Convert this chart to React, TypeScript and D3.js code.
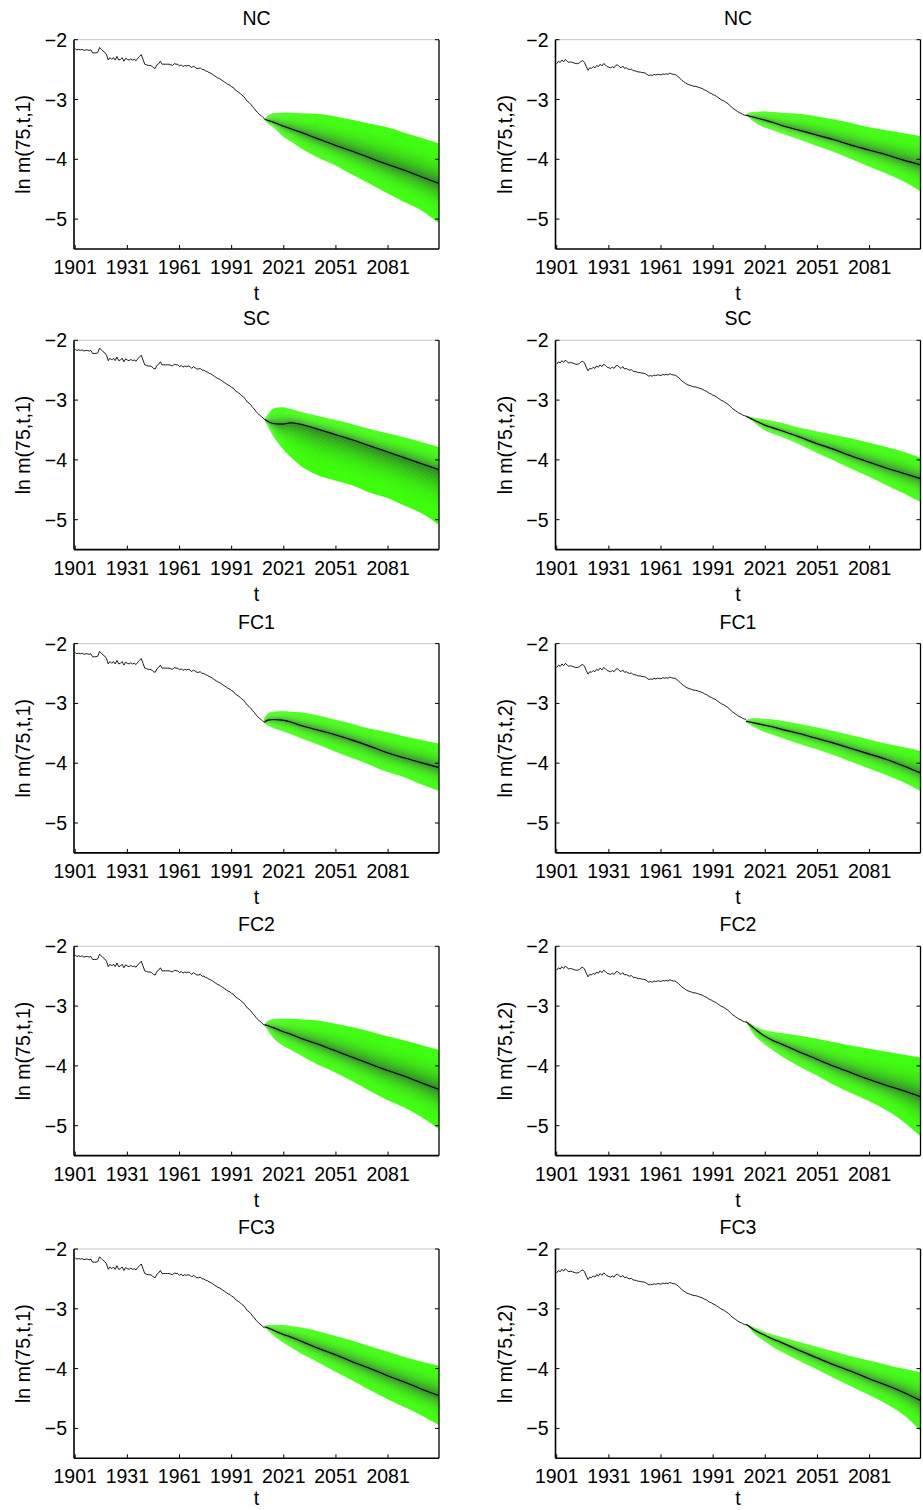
import * as d3 from "d3"

// historical ln m(75,t,s), 1901..2010
const histYears = d3.range(1901, 2011)
const histSex1 = [
  -2.15, -2.17, -2.16, -2.17, -2.16, -2.18, -2.17, -2.17, -2.18, -2.17,
  -2.22, -2.22, -2.22, -2.21, -2.13, -2.16, -2.19, -2.21, -2.25, -2.34,
  -2.30, -2.33, -2.30, -2.34, -2.28, -2.34, -2.33, -2.30, -2.36, -2.31,
  -2.33, -2.34, -2.32, -2.34, -2.33, -2.35, -2.31, -2.28, -2.25, -2.33,
  -2.41, -2.42, -2.43, -2.43, -2.44, -2.47, -2.48, -2.42, -2.40, -2.36,
  -2.41, -2.41, -2.41, -2.41, -2.41, -2.42, -2.43, -2.40, -2.41, -2.41,
  -2.44, -2.42, -2.45, -2.43, -2.44, -2.43, -2.44, -2.47, -2.44, -2.46,
  -2.48, -2.48, -2.47, -2.50, -2.50, -2.52, -2.53, -2.55, -2.56, -2.58,
  -2.60, -2.62, -2.64, -2.65, -2.67, -2.69, -2.71, -2.73, -2.75, -2.76,
  -2.79, -2.80, -2.84, -2.86, -2.88, -2.90, -2.93, -2.95, -2.99, -3.03,
  -3.05, -3.08, -3.12, -3.15, -3.19, -3.22, -3.25, -3.27, -3.30, -3.32,
]
const histSex2 = [
  -2.40, -2.36, -2.38, -2.34, -2.37, -2.33, -2.36, -2.38, -2.37, -2.38,
  -2.39, -2.40, -2.40, -2.39, -2.36, -2.35, -2.38, -2.45, -2.51, -2.47,
  -2.48, -2.45, -2.47, -2.43, -2.45, -2.41, -2.44, -2.40, -2.42, -2.45,
  -2.46, -2.47, -2.45, -2.47, -2.43, -2.42, -2.45, -2.47, -2.44, -2.48,
  -2.47, -2.49, -2.50, -2.49, -2.52, -2.52, -2.53, -2.54, -2.54, -2.55,
  -2.55, -2.56, -2.58, -2.60, -2.59, -2.60, -2.58, -2.59, -2.58, -2.58,
  -2.59, -2.57, -2.58, -2.57, -2.58, -2.56, -2.57, -2.58, -2.58, -2.60,
  -2.62, -2.65, -2.68, -2.70, -2.72, -2.74, -2.75, -2.76, -2.77, -2.78,
  -2.78, -2.79, -2.80, -2.81, -2.82, -2.84, -2.85, -2.87, -2.89, -2.90,
  -2.92, -2.93, -2.95, -2.97, -2.99, -3.01, -3.02, -3.04, -3.06, -3.08,
  -3.11, -3.14, -3.16, -3.18, -3.20, -3.22, -3.23, -3.25, -3.26, -3.27,
]

// forecast years and fan (median, upper, lower) per model and sex
const fcYears = [2010, 2012, 2015, 2020, 2025, 2030, 2040, 2050, 2060, 2070, 2080, 2090, 2100, 2110]

const ncMed1 = [-3.33, -3.35, -3.38, -3.44, -3.49, -3.54, -3.65, -3.76, -3.86, -3.97, -4.08, -4.18, -4.29, -4.40]
const ncUp1 = [-3.33, -3.27, -3.23, -3.22, -3.22, -3.23, -3.24, -3.28, -3.34, -3.40, -3.46, -3.55, -3.64, -3.73]
const ncLo1 = [-3.33, -3.40, -3.46, -3.60, -3.70, -3.80, -3.96, -4.09, -4.25, -4.40, -4.56, -4.71, -4.85, -5.06]
const ncMed2 = [-3.26, -3.28, -3.30, -3.34, -3.38, -3.43, -3.51, -3.59, -3.67, -3.76, -3.84, -3.92, -4.01, -4.09]
const ncUp2 = [-3.26, -3.22, -3.21, -3.20, -3.21, -3.22, -3.24, -3.28, -3.33, -3.39, -3.46, -3.51, -3.56, -3.61]
const ncLo2 = [-3.26, -3.31, -3.38, -3.46, -3.51, -3.56, -3.66, -3.77, -3.87, -3.99, -4.11, -4.23, -4.36, -4.53]

const scMed1 = [-3.32, -3.36, -3.39, -3.40, -3.38, -3.40, -3.48, -3.57, -3.66, -3.76, -3.86, -3.96, -4.06, -4.16]
const scUp1 = [-3.32, -3.24, -3.14, -3.12, -3.15, -3.19, -3.26, -3.33, -3.40, -3.48, -3.55, -3.62, -3.70, -3.78]
const scLo1 = [-3.32, -3.44, -3.60, -3.80, -3.95, -4.08, -4.25, -4.34, -4.42, -4.54, -4.63, -4.76, -4.89, -5.08]
const scMed2 = [-3.27, -3.30, -3.34, -3.41, -3.46, -3.51, -3.61, -3.72, -3.82, -3.93, -4.03, -4.13, -4.22, -4.31]
const scUp2 = [-3.27, -3.28, -3.30, -3.32, -3.35, -3.38, -3.46, -3.52, -3.58, -3.64, -3.71, -3.78, -3.86, -3.96]
const scLo2 = [-3.27, -3.31, -3.38, -3.49, -3.56, -3.61, -3.73, -3.87, -4.00, -4.14, -4.27, -4.41, -4.55, -4.70]

const fc1Med1 = [-3.31, -3.28, -3.27, -3.28, -3.31, -3.36, -3.44, -3.52, -3.61, -3.71, -3.82, -3.91, -3.99, -4.07]
const fc1Up1 = [-3.24, -3.17, -3.14, -3.13, -3.14, -3.15, -3.20, -3.27, -3.34, -3.42, -3.48, -3.55, -3.61, -3.67]
const fc1Lo1 = [-3.33, -3.37, -3.41, -3.46, -3.51, -3.57, -3.68, -3.80, -3.91, -4.02, -4.14, -4.23, -4.35, -4.46]
const fc1Med2 = [-3.30, -3.31, -3.33, -3.36, -3.39, -3.43, -3.50, -3.58, -3.66, -3.75, -3.84, -3.93, -4.04, -4.16]
const fc1Up2 = [-3.29, -3.26, -3.25, -3.26, -3.27, -3.29, -3.34, -3.40, -3.46, -3.53, -3.60, -3.67, -3.73, -3.79]
const fc1Lo2 = [-3.31, -3.35, -3.40, -3.47, -3.52, -3.57, -3.67, -3.76, -3.86, -3.97, -4.08, -4.19, -4.31, -4.46]

const fc2Med1 = [-3.31, -3.33, -3.36, -3.42, -3.47, -3.53, -3.63, -3.74, -3.85, -3.96, -4.07, -4.17, -4.28, -4.39]
const fc2Up1 = [-3.31, -3.25, -3.22, -3.21, -3.21, -3.22, -3.24, -3.29, -3.35, -3.42, -3.50, -3.57, -3.65, -3.73]
const fc2Lo1 = [-3.31, -3.41, -3.53, -3.65, -3.73, -3.81, -3.97, -4.10, -4.25, -4.41, -4.56, -4.69, -4.85, -5.05]
const fc2Med2 = [-3.26, -3.31, -3.38, -3.49, -3.57, -3.63, -3.76, -3.88, -4.00, -4.11, -4.22, -4.32, -4.41, -4.51]
const fc2Up2 = [-3.26, -3.29, -3.34, -3.40, -3.43, -3.45, -3.49, -3.54, -3.60, -3.66, -3.71, -3.76, -3.81, -3.86]
const fc2Lo2 = [-3.26, -3.36, -3.49, -3.62, -3.73, -3.83, -4.00, -4.15, -4.31, -4.45, -4.58, -4.73, -4.92, -5.17]

const fc3Med1 = [-3.30, -3.32, -3.36, -3.42, -3.47, -3.53, -3.65, -3.76, -3.88, -3.99, -4.11, -4.22, -4.34, -4.45]
const fc3Up1 = [-3.30, -3.27, -3.27, -3.27, -3.29, -3.31, -3.37, -3.45, -3.53, -3.62, -3.71, -3.80, -3.88, -3.95]
const fc3Lo1 = [-3.30, -3.36, -3.44, -3.55, -3.64, -3.73, -3.88, -4.04, -4.19, -4.35, -4.50, -4.64, -4.78, -4.94]
const fc3Med2 = [-3.26, -3.30, -3.36, -3.43, -3.50, -3.56, -3.69, -3.81, -3.93, -4.04, -4.16, -4.27, -4.39, -4.53]
const fc3Up2 = [-3.26, -3.28, -3.32, -3.38, -3.43, -3.47, -3.55, -3.63, -3.71, -3.79, -3.86, -3.93, -4.00, -4.06]
const fc3Lo2 = [-3.26, -3.32, -3.42, -3.53, -3.63, -3.71, -3.86, -4.00, -4.15, -4.29, -4.43, -4.58, -4.76, -5.03]

const models = ["NC", "SC", "FC1", "FC2", "FC3"]
const xTicks = [1901, 1931, 1961, 1991, 2021, 2051, 2081]
const yTicks = [-2, -3, -4, -5]

const panels = [
  [{ med: ncMed1, up: ncUp1, lo: ncLo1 }, { med: ncMed2, up: ncUp2, lo: ncLo2 }],
  [{ med: scMed1, up: scUp1, lo: scLo1 }, { med: scMed2, up: scUp2, lo: scLo2 }],
  [{ med: fc1Med1, up: fc1Up1, lo: fc1Lo1 }, { med: fc1Med2, up: fc1Up2, lo: fc1Lo2 }],
  [{ med: fc2Med1, up: fc2Up1, lo: fc2Lo1 }, { med: fc2Med2, up: fc2Up2, lo: fc2Lo2 }],
  [{ med: fc3Med1, up: fc3Up1, lo: fc3Lo1 }, { med: fc3Med2, up: fc3Up2, lo: fc3Lo2 }],
]
const histBySex = [histSex1, histSex2]

// layout
const width = 923
const height = 1510
const colX = [
  [74, 439],
  [555.5, 920.5],
]
const rowTop = [39.7, 340.3, 643.6, 946.3, 1249]
const plotH = 209.3
const font = "'Liberation Sans', Arial, Helvetica, sans-serif"
const nBands = 24
const bandColor = d3.interpolateRgb("#33ff00", "#26801a")

function Panel({ row, col }: { row: number; col: number }) {
  const [x0, x1] = colX[col]
  const top = rowTop[row]
  const bottom = top + plotH
  const x = d3.scaleLinear().domain([1900.3, 2110.3]).range([x0, x1])
  const y = d3.scaleLinear().domain([-5.5, -2]).range([bottom, top])
  const fan = panels[row][col]
  const hist = histBySex[col]
  const clipId = `clip-${row}-${col}`

  const bands = d3.range(nBands).map((k) => {
    const f = 1 - k / nBands
    const area = d3
      .area<number>()
      .x((_, i) => x(fcYears[i]))
      .y0((_, i) => y(fan.med[i] + f * (fan.lo[i] - fan.med[i])))
      .y1((_, i) => y(fan.med[i] + f * (fan.up[i] - fan.med[i])))
      .curve(d3.curveMonotoneX)
    const t = k / (nBands - 1)
    return { d: area(fcYears) || "", color: bandColor(Math.pow(t, 2.6)) }
  })

  const histLine = d3
    .line<number>()
    .x((d) => x(d))
    .y((_, i) => y(hist[i]))(histYears) || ""
  const medLine = d3
    .line<number>()
    .x((d) => x(d))
    .y((_, i) => y(fan.med[i]))
    .curve(d3.curveMonotoneX)(fcYears) || ""

  const fmt = (v: number) => (v < 0 ? "\u2212" + Math.abs(v) : String(v))

  return (
    <g>
      <defs>
        <clipPath id={clipId}>
          <rect x={x0} y={top} width={x1 - x0} height={plotH} />
        </clipPath>
      </defs>
      <text x={(x0 + x1) / 2} y={top - 15} textAnchor="middle" fontSize={19.5} fontFamily={font}>
        {models[row]}
      </text>
      <g clipPath={`url(#${clipId})`}>
        {bands.map((b, i) => (
          <path key={i} d={b.d} fill={b.color} stroke="rgba(200,255,180,0.4)" strokeWidth={0.4} />
        ))}
        <path d={histLine} fill="none" stroke="#000" strokeWidth={0.9} />
        <path d={medLine} fill="none" stroke="#000" strokeWidth={1.1} />
      </g>
      {/* box */}
      <line x1={x0} x2={x1} y1={top} y2={top} stroke="#c8c8c8" strokeWidth={1} />
      <line x1={x1} x2={x1} y1={top} y2={bottom} stroke="#000" strokeWidth={1.3} />
      <line x1={x0} x2={x0} y1={top} y2={bottom} stroke="#000" strokeWidth={1.6} />
      <line x1={x0} x2={x1} y1={bottom} y2={bottom} stroke="#000" strokeWidth={1.6} />
      {/* x ticks */}
      {xTicks.map((t) => (
        <g key={t} transform={`translate(${x(t)},${bottom})`}>
          <line y1={0} y2={-4} stroke="#000" strokeWidth={1} />
          <text y={25} textAnchor="middle" fontSize={19.5} fontFamily={font}>
            {t}
          </text>
        </g>
      ))}
      {/* y ticks */}
      {yTicks.map((t) => (
        <g key={t}>
          <line x1={x0} x2={x0 + 4} y1={y(t)} y2={y(t)} stroke="#000" strokeWidth={1} />
          <line x1={x1} x2={x1 - 4} y1={y(t)} y2={y(t)} stroke="#000" strokeWidth={1} />
          <text x={x0 - 7} y={y(t)} dy="0.36em" textAnchor="end" fontSize={19.5} fontFamily={font}>
            {fmt(t)}
          </text>
        </g>
      ))}
      <text
        x={(x0 + x1) / 2}
        y={Math.min(bottom + 51, height - 5)}
        textAnchor="middle"
        fontSize={19.5}
        fontFamily={font}
      >
        t
      </text>
      <text
        transform={`translate(${x0 - 51},${(top + bottom) / 2}) rotate(-90)`}
        dy="0.36em"
        textAnchor="middle"
        fontSize={19.5}
        fontFamily={font}
      >
        {`ln m(75,t,${col + 1})`}
      </text>
    </g>
  )
}

export default function App() {
  return (
    <svg
      width={width}
      height={height}
      viewBox={`0 0 ${width} ${height}`}
      style={{ position: "absolute", left: 0, top: 0, background: "#fff" }}
    >
      <rect width={width} height={height} fill="#fff" />
      {models.map((_, r) => (
        <g key={r}>
          <Panel row={r} col={0} />
          <Panel row={r} col={1} />
        </g>
      ))}
    </svg>
  )
}
